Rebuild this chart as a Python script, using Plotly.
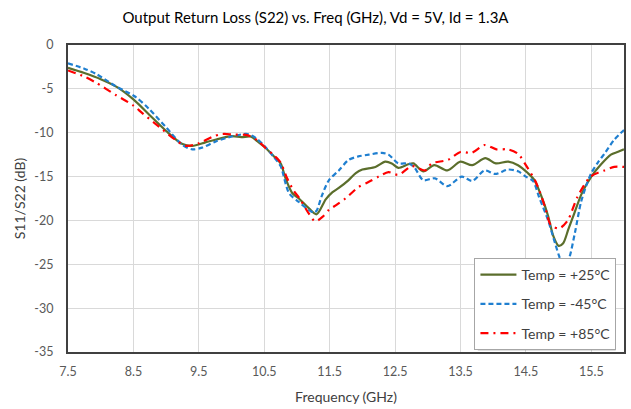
import plotly.graph_objects as go

# ---- data ----
freq_25 = [7.5, 7.75, 8.0, 8.25, 8.5, 8.75, 9.0, 9.25, 9.4, 9.6, 9.75, 10.0, 10.15, 10.3, 10.4, 10.5,
           10.65, 10.75, 10.83, 10.93, 11.03, 11.18, 11.3, 11.44, 11.54, 11.64, 11.79, 11.9, 12.0, 12.2,
           12.35, 12.45, 12.55, 12.7, 12.78, 12.93, 13.1, 13.3, 13.5, 13.68, 13.88, 14.04, 14.23, 14.38,
           14.53, 14.63, 14.75, 14.84, 14.92, 15.0, 15.07, 15.15, 15.24, 15.35, 15.5, 15.65, 15.8, 15.9, 16.0]
s22_25 = [-2.6, -3.2, -3.9, -4.8, -6.2, -8.0, -9.8, -11.3, -11.5, -11.1, -10.8, -10.4, -10.5, -10.45, -11.0, -11.6,
          -12.7, -13.5, -15.3, -16.9, -17.5, -18.6, -19.3, -17.6, -16.8, -16.3, -15.4, -14.6, -14.2, -13.9,
          -13.3, -13.5, -14.0, -13.6, -13.5, -14.4, -13.7, -14.3, -13.3, -13.7, -12.9, -13.5, -13.3, -13.7,
          -14.6, -15.4, -17.5, -19.5, -21.8, -22.9, -22.6, -21.0, -19.2, -17.0, -15.0, -13.6, -12.5, -12.2, -11.9]

freq_m45 = [7.5, 7.75, 7.93, 8.23, 8.53, 8.74, 9.0, 9.25, 9.4, 9.55, 9.76, 10.02, 10.24, 10.37, 10.5, 10.65,
            10.75, 10.88, 11.03, 11.18, 11.26, 11.3, 11.38, 11.49, 11.64, 11.79, 11.94, 12.1, 12.3, 12.4,
            12.55, 12.71, 12.8, 12.93, 13.11, 13.3, 13.52, 13.68, 13.87, 14.03, 14.23, 14.38, 14.5, 14.61,
            14.7, 14.84, 14.95, 15.01, 15.09, 15.17, 15.25, 15.34, 15.42, 15.5, 15.6, 15.7, 15.85, 16.0]
s22_m45 = [-2.1, -2.7, -3.3, -4.7, -5.9, -7.3, -9.4, -11.4, -11.9, -11.7, -11.0, -10.4, -10.15, -10.6, -11.5, -12.8,
           -13.8, -16.9, -17.9, -18.8, -19.1, -18.9, -17.2, -15.4, -14.3, -13.1, -12.7, -12.5, -12.3, -12.5,
           -13.5, -13.5, -14.0, -15.4, -15.2, -16.1, -15.0, -15.5, -14.3, -14.7, -14.2, -14.4, -15.0, -15.5,
           -17.3, -20.0, -22.7, -24.1, -25.6, -24.1, -21.4, -18.0, -16.1, -14.6, -13.4, -12.4, -10.8, -9.7]

freq_85 = [7.5, 7.75, 7.93, 8.23, 8.5, 8.64, 8.89, 9.14, 9.3, 9.5, 9.71, 9.86, 10.02, 10.25, 10.4, 10.5,
           10.65, 10.75, 10.85, 10.95, 11.05, 11.18, 11.28, 11.39, 11.49, 11.61, 11.74, 11.94, 12.1, 12.25,
           12.4, 12.55, 12.76, 12.96, 13.06, 13.31, 13.5, 13.67, 13.87, 14.05, 14.23, 14.38, 14.5, 14.65,
           14.79, 14.88, 15.01, 15.14, 15.29, 15.49, 15.7, 15.85, 16.0]
s22_85 = [-2.9, -3.6, -4.3, -5.7, -6.9, -7.8, -9.3, -10.8, -11.5, -11.2, -10.45, -10.15, -10.2, -10.3, -10.9, -11.6,
          -12.6, -13.4, -15.2, -16.6, -17.6, -19.2, -20.1, -19.6, -18.8, -18.2, -17.5, -16.2, -15.6, -15.0,
          -14.5, -14.8, -13.8, -14.3, -13.5, -13.1, -12.2, -12.3, -11.4, -11.9, -11.9, -12.4, -13.7, -15.6,
          -18.4, -20.5, -20.9, -20.0, -17.3, -15.0, -14.3, -13.9, -13.9]

series_names = ["Temp = +25°C", "Temp = -45°C", "Temp = +85°C"]

x_ticks = [7.5, 8.5, 9.5, 10.5, 11.5, 12.5, 13.5, 14.5, 15.5]
x_tick_labels = ["7.5", "8.5", "9.5", "10.5", "11.5", "12.5", "13.5", "14.5", "15.5"]
y_ticks = [0, -5, -10, -15, -20, -25, -30, -35]
y_tick_labels = ["0", "-5", "-10", "-15", "-20", "-25", "-30", "-35"]

FONT = "Lato, 'Open Sans', sans-serif"

fig = go.Figure()
fig.add_trace(go.Scatter(x=freq_25, y=s22_25, mode="lines", name=series_names[0], legendgroup="a",
                         line=dict(color="#5B6E2C", width=2.2, shape="spline", smoothing=0.8)))
fig.add_trace(go.Scatter(x=freq_m45, y=s22_m45, mode="lines", name=series_names[1], legendgroup="b",
                         line=dict(color="#1F7FD0", width=2.2, dash="5px,3px", shape="spline", smoothing=0.8)))
fig.add_trace(go.Scatter(x=freq_85, y=s22_85, mode="lines", name=series_names[2], legendgroup="c",
                         line=dict(color="#FF0000", width=2.2, dash="8px,5px,2px,5px", shape="spline", smoothing=0.8)))

# legend shadow
fig.add_shape(type="rect", xref="paper", yref="paper", x0=0.737, x1=0.985, y0=0.005, y1=0.298,
              fillcolor="rgba(0,0,0,0.25)", line=dict(width=0), layer="above")

fig.update_layout(
    width=631, height=409,
    margin=dict(l=68, r=5, t=45, b=57),
    paper_bgcolor="white", plot_bgcolor="white",
    font=dict(family=FONT, color="#404040", size=13),
    title=dict(text="Output Return Loss (S22) vs. Freq (GHz), Vd = 5V, Id = 1.3A",
               x=0.5, xanchor="center", y=0.957, yanchor="middle",
               font=dict(family=FONT, size=15, color="#000000")),
    xaxis=dict(range=[7.5, 16.0], tickvals=x_ticks, ticktext=x_tick_labels,
               showgrid=True, gridcolor="#D9D9D9", gridwidth=1,
               showline=True, linecolor="#404040", linewidth=2, mirror=True,
               ticks="outside", ticklen=7, tickcolor="rgba(0,0,0,0)", zeroline=False,
               tickfont=dict(size=12.5, color="#595959"),
               title=dict(text="Frequency (GHz)", font=dict(size=14, color="#404040"), standoff=14)),
    yaxis=dict(range=[-35, 0], tickvals=y_ticks, ticktext=y_tick_labels,
               showgrid=True, gridcolor="#D9D9D9", gridwidth=1,
               showline=True, linecolor="#404040", linewidth=2, mirror=True,
               ticks="outside", ticklen=10, tickcolor="rgba(0,0,0,0)", zeroline=False,
               tickfont=dict(size=12.5, color="#595959"),
               title=dict(text="S11/S22 (dB)", font=dict(size=14, color="#404040"), standoff=5)),
    legend=dict(x=0.731, y=0.306, xanchor="left", yanchor="top",
                bgcolor="white", bordercolor="#A6A6A6", borderwidth=1,
                font=dict(size=14, color="#404040"),
                traceorder="grouped", tracegroupgap=8, itemwidth=36),
    showlegend=True,
)

fig.write_html("out.html", config={"displayModeBar": False},
               post_script="document.body.style.margin='0';")
